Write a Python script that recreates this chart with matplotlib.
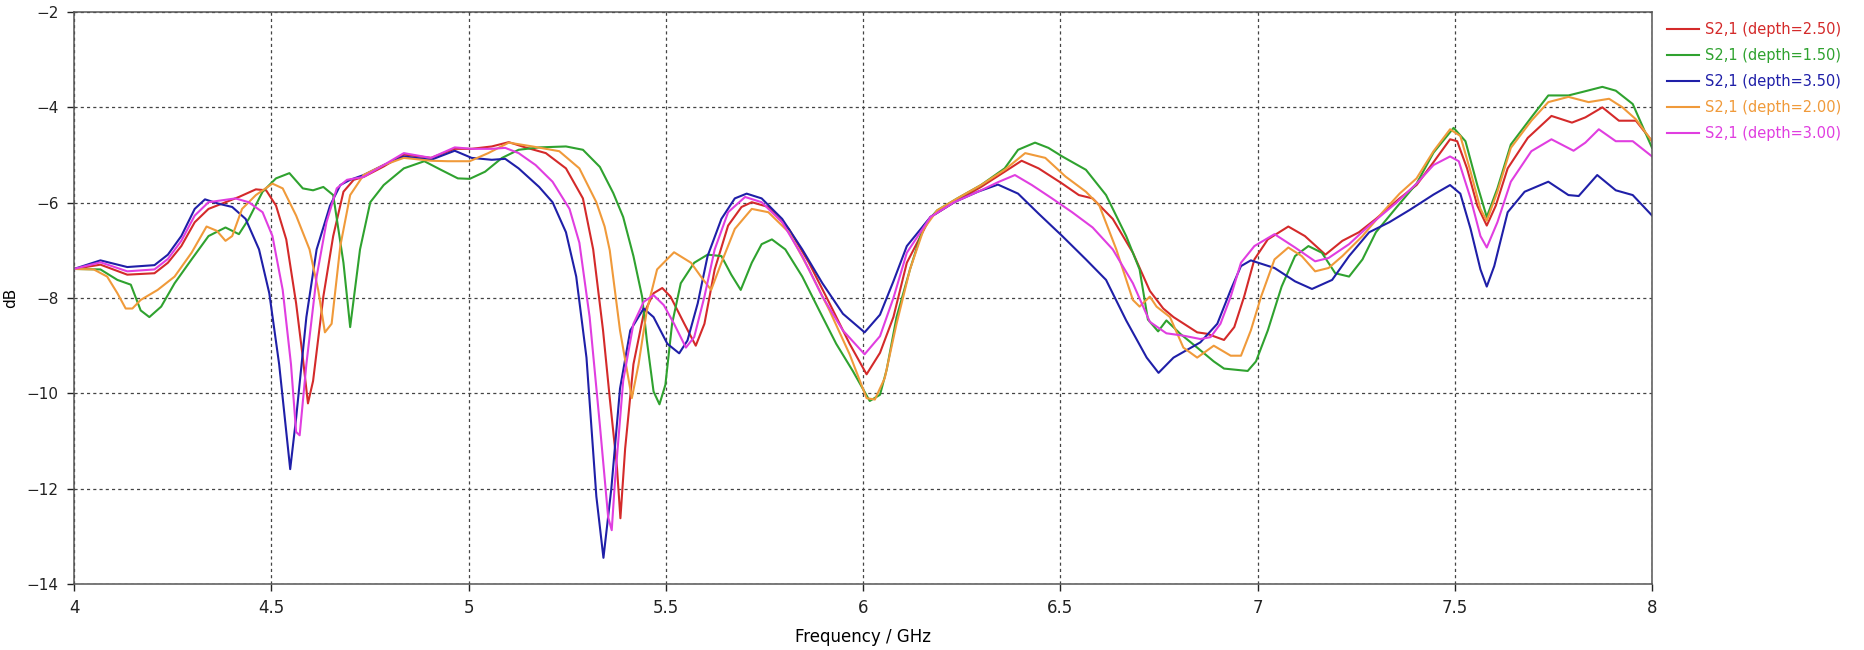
import matplotlib
matplotlib.use("Agg")
import matplotlib.pyplot as plt

# S2,1 curves (frequency in GHz, magnitude in dB)
f_d250 = [4.0, 4.067, 4.135, 4.204, 4.238, 4.272, 4.306, 4.341, 4.375, 4.418, 4.461, 4.487, 4.512,
          4.538, 4.563, 4.580, 4.593, 4.606, 4.632, 4.657, 4.683, 4.709, 4.734, 4.785, 4.836, 4.905,
          4.965, 5.008, 5.059, 5.102, 5.144, 5.196, 5.247, 5.290, 5.316, 5.341, 5.358, 5.376, 5.385,
          5.397, 5.418, 5.444, 5.469, 5.491, 5.512, 5.547, 5.576, 5.598, 5.624, 5.658, 5.692, 5.718,
          5.760, 5.812, 5.863, 5.915, 5.966, 6.009, 6.043, 6.077, 6.111, 6.171, 6.231, 6.299, 6.359,
          6.402, 6.445, 6.505, 6.547, 6.582, 6.633, 6.684, 6.727, 6.761, 6.787, 6.847, 6.872, 6.915,
          6.941, 6.966, 6.992, 7.026, 7.078, 7.120, 7.172, 7.215, 7.257, 7.300, 7.360, 7.403, 7.446,
          7.488, 7.506, 7.531, 7.557, 7.581, 7.604, 7.634, 7.685, 7.745, 7.797, 7.831, 7.874, 7.916,
          7.959, 8.0]
s_d250 = [-7.39, -7.30, -7.51, -7.48, -7.26, -6.91, -6.41, -6.13, -6.02, -5.88, -5.72, -5.74, -6.06,
          -6.77, -8.11, -9.25, -10.21, -9.74, -7.97, -6.70, -5.77, -5.52, -5.46, -5.24, -4.99, -5.06,
          -4.87, -4.87, -4.82, -4.73, -4.84, -4.96, -5.28, -5.91, -6.98, -8.68, -10.10, -11.52, -12.62,
          -11.16, -9.39, -8.33, -7.90, -7.79, -7.97, -8.54, -9.00, -8.54, -7.40, -6.48, -6.09, -5.99,
          -6.09, -6.55, -7.26, -8.11, -8.96, -9.60, -9.15, -8.40, -7.26, -6.30, -5.99, -5.67, -5.35,
          -5.12, -5.28, -5.60, -5.84, -5.91, -6.34, -7.05, -7.85, -8.22, -8.40, -8.72, -8.75, -8.88,
          -8.61, -7.97, -7.19, -6.77, -6.50, -6.70, -7.09, -6.80, -6.62, -6.34, -5.91, -5.63, -5.15,
          -4.67, -4.71, -5.28, -6.06, -6.48, -6.06, -5.28, -4.64, -4.18, -4.32, -4.21, -4.00, -4.28,
          -4.28, -4.71]

f_d150 = [4.0, 4.067, 4.110, 4.144, 4.169, 4.191, 4.221, 4.255, 4.298, 4.341, 4.384, 4.418, 4.443,
          4.478, 4.512, 4.546, 4.580, 4.606, 4.632, 4.657, 4.683, 4.700, 4.725, 4.751, 4.785, 4.836,
          4.888, 4.930, 4.973, 5.003, 5.042, 5.085, 5.127, 5.179, 5.247, 5.290, 5.333, 5.367, 5.392,
          5.418, 5.440, 5.452, 5.469, 5.484, 5.499, 5.516, 5.538, 5.572, 5.606, 5.641, 5.666, 5.690,
          5.718, 5.743, 5.769, 5.803, 5.846, 5.889, 5.932, 5.974, 6.017, 6.043, 6.060, 6.085, 6.119,
          6.154, 6.188, 6.239, 6.299, 6.359, 6.393, 6.436, 6.470, 6.505, 6.565, 6.616, 6.667, 6.701,
          6.722, 6.748, 6.769, 6.804, 6.847, 6.889, 6.915, 6.975, 6.996, 7.026, 7.061, 7.095, 7.129,
          7.163, 7.197, 7.232, 7.266, 7.300, 7.352, 7.403, 7.446, 7.497, 7.527, 7.557, 7.581, 7.608,
          7.642, 7.694, 7.737, 7.788, 7.822, 7.874, 7.908, 7.951, 8.0]
s_d150 = [-7.39, -7.40, -7.62, -7.72, -8.26, -8.40, -8.18, -7.69, -7.19, -6.70, -6.52, -6.66, -6.34,
          -5.77, -5.49, -5.38, -5.70, -5.74, -5.67, -5.84, -7.26, -8.61, -6.98, -5.99, -5.63, -5.28,
          -5.13, -5.31, -5.49, -5.50, -5.35, -5.06, -4.89, -4.84, -4.82, -4.89, -5.25, -5.80, -6.30,
          -7.12, -7.97, -8.89, -9.96, -10.23, -9.82, -8.54, -7.69, -7.26, -7.09, -7.12, -7.51, -7.83,
          -7.26, -6.87, -6.77, -6.98, -7.55, -8.26, -8.96, -9.53, -10.16, -10.03, -9.50, -8.40, -7.40,
          -6.48, -6.16, -5.91, -5.63, -5.28, -4.89, -4.74, -4.85, -5.03, -5.31, -5.84, -6.70, -7.40,
          -8.45, -8.70, -8.47, -8.75, -9.04, -9.33, -9.48, -9.53, -9.33, -8.68, -7.76, -7.12, -6.91,
          -7.05, -7.48, -7.55, -7.19, -6.62, -6.10, -5.60, -4.95, -4.43, -4.71, -5.63, -6.30, -5.70,
          -4.78, -4.21, -3.75, -3.75, -3.68, -3.57, -3.65, -3.93, -4.85]

f_d350 = [4.0, 4.067, 4.135, 4.204, 4.238, 4.272, 4.306, 4.332, 4.366, 4.401, 4.435, 4.469, 4.495,
          4.520, 4.548, 4.563, 4.589, 4.615, 4.649, 4.675, 4.700, 4.734, 4.785, 4.836, 4.905, 4.965,
          5.008, 5.059, 5.093, 5.127, 5.179, 5.213, 5.247, 5.273, 5.299, 5.324, 5.342, 5.362, 5.384,
          5.410, 5.444, 5.469, 5.504, 5.534, 5.555, 5.581, 5.606, 5.641, 5.675, 5.705, 5.743, 5.795,
          5.846, 5.897, 5.949, 6.004, 6.043, 6.077, 6.111, 6.171, 6.231, 6.291, 6.342, 6.393, 6.445,
          6.505, 6.565, 6.616, 6.667, 6.719, 6.749, 6.787, 6.855, 6.898, 6.932, 6.958, 6.983, 7.043,
          7.095, 7.138, 7.189, 7.232, 7.283, 7.334, 7.386, 7.446, 7.488, 7.514, 7.540, 7.565, 7.581,
          7.600, 7.634, 7.677, 7.737, 7.788, 7.814, 7.861, 7.908, 7.951, 8.0]
s_d350 = [-7.39, -7.21, -7.35, -7.31, -7.09, -6.70, -6.13, -5.93, -6.02, -6.09, -6.34, -6.98, -7.90,
          -9.39, -11.59, -10.52, -8.40, -6.98, -6.06, -5.63, -5.52, -5.42, -5.21, -5.03, -5.10, -4.91,
          -5.06, -5.10, -5.08, -5.28, -5.67, -5.99, -6.62, -7.55, -9.25, -12.16, -13.45, -12.00, -9.90,
          -8.68, -8.22, -8.40, -8.96, -9.16, -8.89, -8.11, -7.12, -6.34, -5.91, -5.81, -5.91, -6.34,
          -6.98, -7.69, -8.33, -8.72, -8.35, -7.65, -6.91, -6.30, -5.99, -5.77, -5.62, -5.81, -6.23,
          -6.70, -7.19, -7.62, -8.47, -9.25, -9.57, -9.25, -8.93, -8.54, -7.83, -7.33, -7.21, -7.37,
          -7.65, -7.81, -7.62, -7.12, -6.62, -6.41, -6.15, -5.83, -5.63, -5.81, -6.55, -7.40, -7.76,
          -7.33, -6.20, -5.77, -5.56, -5.84, -5.86, -5.42, -5.74, -5.84, -6.27]

f_d200 = [4.0, 4.050, 4.084, 4.110, 4.131, 4.148, 4.169, 4.212, 4.255, 4.298, 4.336, 4.362, 4.384,
          4.401, 4.426, 4.461, 4.503, 4.529, 4.563, 4.597, 4.619, 4.636, 4.653, 4.675, 4.700, 4.734,
          4.785, 4.836, 4.905, 4.948, 5.003, 5.050, 5.102, 5.162, 5.230, 5.281, 5.324, 5.345, 5.358,
          5.384, 5.414, 5.431, 5.452, 5.478, 5.521, 5.564, 5.589, 5.615, 5.641, 5.675, 5.718, 5.760,
          5.812, 5.863, 5.915, 5.966, 6.009, 6.030, 6.055, 6.085, 6.119, 6.154, 6.188, 6.239, 6.299,
          6.359, 6.411, 6.462, 6.513, 6.565, 6.599, 6.642, 6.684, 6.701, 6.727, 6.744, 6.778, 6.812,
          6.847, 6.889, 6.932, 6.958, 6.983, 7.009, 7.043, 7.078, 7.112, 7.146, 7.180, 7.215, 7.266,
          7.317, 7.360, 7.403, 7.446, 7.488, 7.514, 7.540, 7.565, 7.581, 7.608, 7.642, 7.694, 7.737,
          7.788, 7.839, 7.891, 7.925, 7.959, 8.0]
s_d200 = [-7.39, -7.40, -7.55, -7.90, -8.22, -8.22, -8.04, -7.83, -7.55, -7.05, -6.50, -6.59, -6.80,
          -6.70, -6.13, -5.84, -5.60, -5.70, -6.27, -6.98, -7.83, -8.72, -8.54, -6.91, -5.84, -5.42,
          -5.21, -5.06, -5.12, -5.13, -5.13, -4.96, -4.74, -4.82, -4.92, -5.28, -5.99, -6.50, -7.00,
          -8.68, -10.10, -9.39, -8.26, -7.40, -7.04, -7.26, -7.55, -7.83, -7.26, -6.55, -6.13, -6.20,
          -6.62, -7.40, -8.26, -9.18, -10.10, -10.13, -9.68, -8.54, -7.40, -6.55, -6.16, -5.91, -5.63,
          -5.31, -4.96, -5.06, -5.45, -5.77, -6.06, -6.98, -8.04, -8.18, -7.97, -8.18, -8.40, -9.04,
          -9.25, -9.00, -9.21, -9.21, -8.68, -7.97, -7.19, -6.94, -7.12, -7.44, -7.37, -7.12, -6.70,
          -6.20, -5.81, -5.49, -4.92, -4.46, -4.60, -5.35, -6.13, -6.38, -5.77, -4.85, -4.28, -3.89,
          -3.78, -3.89, -3.82, -4.00, -4.25, -4.71]

f_d300 = [4.0, 4.067, 4.135, 4.204, 4.238, 4.272, 4.306, 4.341, 4.375, 4.409, 4.443, 4.478, 4.503,
          4.529, 4.550, 4.563, 4.572, 4.589, 4.615, 4.640, 4.666, 4.692, 4.734, 4.785, 4.836, 4.905,
          4.965, 5.008, 5.059, 5.093, 5.127, 5.170, 5.213, 5.256, 5.281, 5.307, 5.333, 5.354, 5.363,
          5.371, 5.392, 5.418, 5.444, 5.469, 5.495, 5.521, 5.551, 5.572, 5.598, 5.624, 5.658, 5.701,
          5.743, 5.795, 5.846, 5.897, 5.949, 6.004, 6.043, 6.077, 6.111, 6.171, 6.231, 6.299, 6.342,
          6.385, 6.428, 6.479, 6.530, 6.582, 6.633, 6.684, 6.727, 6.769, 6.812, 6.855, 6.881, 6.906,
          6.932, 6.958, 6.992, 7.043, 7.095, 7.146, 7.180, 7.232, 7.283, 7.352, 7.403, 7.446, 7.488,
          7.510, 7.540, 7.565, 7.581, 7.608, 7.642, 7.694, 7.745, 7.801, 7.831, 7.865, 7.908, 7.951,
          8.0]
s_d300 = [-7.39, -7.25, -7.44, -7.40, -7.18, -6.80, -6.27, -5.99, -5.95, -5.91, -5.99, -6.20, -6.70,
          -7.83, -9.39, -10.81, -10.88, -9.39, -7.55, -6.41, -5.70, -5.52, -5.46, -5.21, -4.96, -5.06,
          -4.84, -4.87, -4.87, -4.85, -4.96, -5.21, -5.56, -6.13, -6.84, -8.40, -10.67, -12.60, -12.87,
          -11.87, -9.74, -8.54, -8.08, -7.94, -8.15, -8.54, -9.04, -8.82, -7.97, -6.98, -6.20, -5.88,
          -5.99, -6.41, -7.12, -7.97, -8.68, -9.18, -8.80, -8.00, -7.05, -6.30, -5.99, -5.74, -5.57,
          -5.42, -5.63, -5.91, -6.20, -6.52, -6.98, -7.69, -8.50, -8.74, -8.79, -8.86, -8.82, -8.54,
          -7.97, -7.26, -6.91, -6.66, -6.94, -7.23, -7.16, -6.87, -6.48, -6.00, -5.60, -5.21, -5.03,
          -5.13, -5.91, -6.70, -6.94, -6.41, -5.56, -4.92, -4.67, -4.91, -4.74, -4.46, -4.71, -4.71,
          -5.03]

labels = ["S2,1 (depth=2.50)", "S2,1 (depth=1.50)", "S2,1 (depth=3.50)",
          "S2,1 (depth=2.00)", "S2,1 (depth=3.00)"]
colors = ["#d42a2a", "#2fa22f", "#1f1fa8", "#f09a3a", "#e03ee0"]
freqs = [f_d250, f_d150, f_d350, f_d200, f_d300]
values = [s_d250, s_d150, s_d350, s_d200, s_d300]

fig = plt.figure(figsize=(18.64, 6.5), dpi=100)
ax = fig.add_axes([0.0397, 0.1015, 0.8466, 0.88])

for f, s, c, lab in zip(freqs, values, colors, labels):
    ax.plot(f, s, color=c, lw=1.5, label=lab)

ax.set_xlim(4, 8)
ax.set_ylim(-14, -2)
ax.set_xticks([4, 4.5, 5, 5.5, 6, 6.5, 7, 7.5, 8])
ax.set_xticklabels(["4", "4.5", "5", "5.5", "6", "6.5", "7", "7.5", "8"])
ax.set_yticks(range(-14, -1, 2))
ax.grid(True, color="#444444", linestyle=(0, (2.5, 2.5)), linewidth=0.9)

narrow = ["Liberation Sans Narrow", "DejaVu Sans"]
for t in ax.get_xticklabels():
    t.set_family(narrow)
    t.set_fontsize(12)
for t in ax.get_yticklabels():
    t.set_fontsize(11)
ax.tick_params(direction="out", length=5, width=1, colors="#222222", pad=6)
for sp in ax.spines.values():
    sp.set_color("#555555")
    sp.set_linewidth(1.1)

ax.set_xlabel("Frequency / GHz", fontsize=12, family=narrow, labelpad=8)
ax.set_ylabel("dB", fontsize=11, labelpad=6)

# legend sits right of the plot, text coloured like its line
leg = ax.legend(loc="upper left", bbox_to_anchor=(1.003, 1.0), frameon=False,
                fontsize=10.5, handlelength=2.2, handletextpad=0.4, labelspacing=0.75,
                labelcolor="linecolor", borderaxespad=0.3)

fig.savefig("out.png", dpi=100)
